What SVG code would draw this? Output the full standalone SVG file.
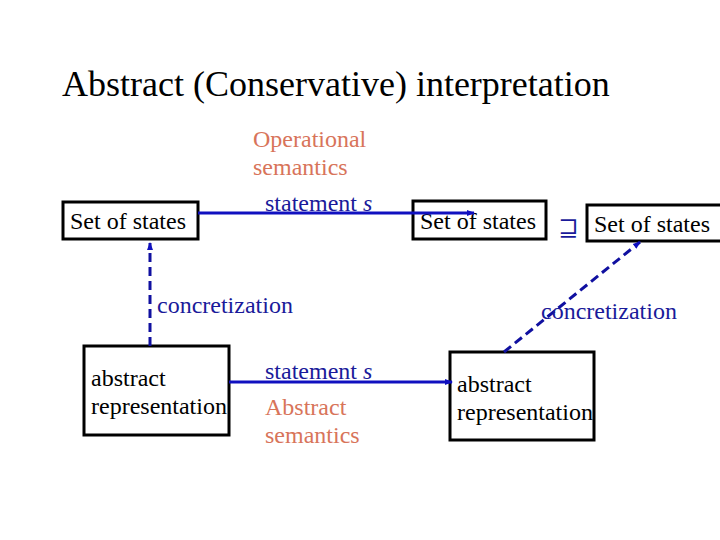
<svg xmlns="http://www.w3.org/2000/svg" width="720" height="540" viewBox="0 0 720 540" font-family="'Liberation Serif', 'DejaVu Serif', serif">
<style>
.box{fill:#fff;stroke:#000;stroke-width:3}
.t{font-size:24px;fill:#000}
.b{font-size:24px;fill:#1a1a9a}
.o{font-size:24px;fill:#d8745a}
.c{stroke:#1010c0;stroke-width:3;fill:none}
.d{stroke:#1010a0;stroke-width:3;fill:none;stroke-dasharray:9,5}
</style>
<defs>
<marker id="ah" markerWidth="8" markerHeight="8" refX="7" refY="4" orient="auto" markerUnits="userSpaceOnUse"><path d="M0,1 L8,4 L0,7 Z" fill="#1010c0"/></marker>
</defs>
<rect width="720" height="540" fill="#fff"/>
<text x="62" y="96" font-size="36">Abstract (Conservative) interpretation</text>
<g id="set1"><rect class="box" x="63" y="202" width="135" height="37"/><text class="t" x="70" y="229">Set of states</text></g>
<g id="set2"><rect class="box" x="413" y="201" width="133" height="38"/><text class="t" x="420" y="229">Set of states</text></g>
<g id="set3"><rect class="box" x="587" y="205" width="135" height="36"/><text class="t" x="594" y="232">Set of states</text></g>
<g id="abs1"><rect class="box" x="84" y="346" width="145" height="89"/><text class="t" x="91" y="386">abstract</text><text class="t" x="91" y="414">representation</text></g>
<g id="abs2"><rect class="box" x="450" y="352" width="144" height="88"/><text class="t" x="457" y="392">abstract</text><text class="t" x="457" y="420">representation</text></g>
<g id="connectors">
<line class="c" x1="198" y1="213" x2="474" y2="213" marker-end="url(#ah)"/>
<line class="c" x1="229" y1="382" x2="452" y2="382" marker-end="url(#ah)"/>
<line class="d" x1="150" y1="346" x2="150" y2="243" marker-end="url(#ah)"/>
<line class="d" x1="504" y1="352" x2="640" y2="242" marker-end="url(#ah)"/>
</g>
<g id="labels">
<text class="o" x="253" y="147">Operational</text>
<text class="o" x="253" y="175">semantics</text>
<text class="b" x="265" y="211">statement <tspan font-style="italic">s</tspan></text>
<text class="b" x="265" y="379">statement <tspan font-style="italic">s</tspan></text>
<text class="o" x="265" y="415">Abstract</text>
<text class="o" x="265" y="443">semantics</text>
<text class="b" x="157" y="313">concretization</text>
<text class="b" x="541" y="319">concretization</text>
<text class="b" x="558" y="236" font-size="24">⊒</text>
</g>
</svg>
